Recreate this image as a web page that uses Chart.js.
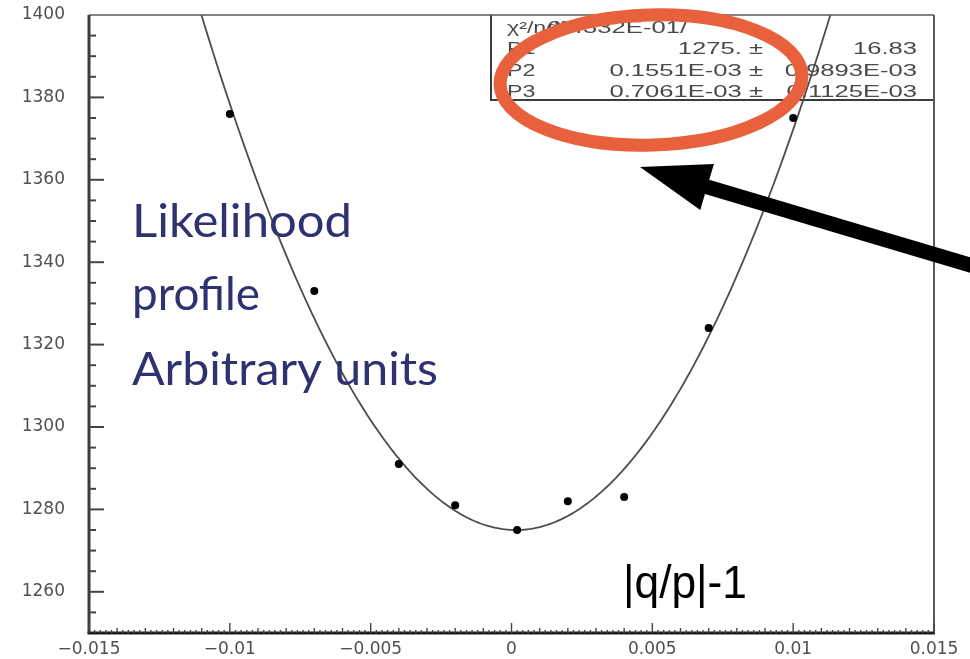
<!DOCTYPE html>
<html>
<head>
<meta charset="utf-8">
<script src="https://cdn.jsdelivr.net/npm/chart.js@4.4.1/dist/chart.umd.min.js"></script>
<style>
  html, body { margin: 0; padding: 0; background: #ffffff; }
  #wrap { width: 970px; height: 659px; }
</style>
</head>
<body>
<div id="wrap"><canvas id="c" width="970" height="659"></canvas></div>
<script>
// Scan points of the likelihood profile
const offsetX  = [-0.010, -0.007, -0.004, -0.002, 0.0002, 0.002, 0.004, 0.007, 0.010];
const profileY = [1376, 1333, 1291, 1281, 1275, 1282, 1283, 1324, 1375];

// Axis ticks
const xTickValues = [-0.015, -0.01, -0.005, 0, 0.005, 0.01, 0.015];
const xTickLabels = ['\u22120.015', '\u22120.01', '\u22120.005', '0', '0.005', '0.01', '0.015'];
const yTickValues = [1260, 1280, 1300, 1320, 1340, 1360, 1380, 1400];
const yTickLabels = ['1260', '1280', '1300', '1320', '1340', '1360', '1380', '1400'];

// Fit result box
const statNames  = ['\u03c7\u00b2/ndf', 'P1', 'P2', 'P3'];
const statValues = ['0.4332E-01/', '1275.', '0.1551E-03', '0.7061E-03'];
const statErrors = ['', '16.83', '0.9893E-03', '0.1125E-03'];

// Free text
const noteLines = ['Likelihood', 'profile', 'Arbitrary units'];
const axisTitle = '|q/p|-1';

// Fitted parabola: P1 + 0.5*((x-P2)/P3)^2, parameters from the fit box
const P1 = parseFloat(statValues[1]);
const P2 = parseFloat(statValues[2]);
const P3 = parseFloat(statValues[3]);
const fitCurve = [];
for (let i = -150; i <= 150; i++) {
  const x = i * 0.0001;
  fitCurve.push({ x: x, y: P1 + 0.5 * Math.pow((x - P2) / P3, 2) });
}
const scanPoints = offsetX.map((x, i) => ({ x: x, y: profileY[i] }));

function stretchedText(ctx, text, x, y, sx, align) {
  ctx.save();
  ctx.translate(x, y);
  ctx.scale(sx, 1);
  ctx.textAlign = align;
  ctx.fillText(text, 0, 0);
  ctx.restore();
}
function fittedText(ctx, text, left, baseline, width) {
  const w = ctx.measureText(text).width;
  ctx.save();
  ctx.translate(left, baseline);
  ctx.scale(width / w, 1);
  ctx.textAlign = 'left';
  ctx.fillText(text, 0, 0);
  ctx.restore();
}

// Fit box, drawn under the curve
const statsBox = {
  id: 'statsBox',
  beforeDatasetsDraw(chart) {
    const ctx = chart.ctx;
    const a = chart.chartArea;
    const bx = 491, by = a.top, bw = a.right - 491, bh = 85;
    ctx.save();
    ctx.fillStyle = '#ffffff';
    ctx.fillRect(bx, by, bw, bh);
    ctx.strokeStyle = '#3c3c3c';
    ctx.lineWidth = 2;
    ctx.beginPath();
    ctx.moveTo(bx, by); ctx.lineTo(bx, by + bh); ctx.lineTo(a.right, by + bh);
    ctx.stroke();
    ctx.fillStyle = '#4a4a4a';
    ctx.font = '16px "Liberation Sans", Arial, sans-serif';
    ctx.textBaseline = 'alphabetic';
    const rows = [33, 54, 76, 97];
    for (let i = 0; i < statNames.length; i++) {
      stretchedText(ctx, statNames[i], 507, rows[i], 1.45, 'left');
      if (i === 0) {
        stretchedText(ctx, statValues[i], 687, rows[i], 1.6, 'right');
      } else {
        stretchedText(ctx, statValues[i] + ' \u00b1', 763, rows[i], 1.6, 'right');
        stretchedText(ctx, statErrors[i], 917, rows[i], 1.6, 'right');
      }
    }
    ctx.restore();
  }
};

// Frame, inward ticks and overlays
const overlay = {
  id: 'overlay',
  afterDraw(chart) {
    const ctx = chart.ctx;
    const a = chart.chartArea;
    const xs = chart.scales.x, ys = chart.scales.y;
    ctx.save();

    // frame
    ctx.strokeStyle = '#5a5a5a';
    ctx.lineWidth = 1.5;
    ctx.beginPath();
    ctx.moveTo(a.left, a.top); ctx.lineTo(a.right, a.top);
    ctx.stroke();
    ctx.lineWidth = 2;
    ctx.beginPath();
    ctx.moveTo(a.right, a.top); ctx.lineTo(a.right, a.bottom);
    ctx.stroke();
    ctx.strokeStyle = '#3a3a3a';
    ctx.lineWidth = 3;
    ctx.beginPath();
    ctx.moveTo(a.left, a.top); ctx.lineTo(a.left, a.bottom);
    ctx.stroke();
    ctx.strokeStyle = '#1e1e1e';
    ctx.beginPath();
    ctx.moveTo(a.left - 1.5, a.bottom); ctx.lineTo(a.right + 1, a.bottom);
    ctx.stroke();

    // y ticks every 5, long ones every 20
    ctx.strokeStyle = '#444444';
    ctx.lineWidth = 2;
    for (let v = 1255; v < 1400; v += 5) {
      const py = ys.getPixelForValue(v);
      const len = (v % 20 === 0) ? 15 : 7;
      ctx.beginPath();
      ctx.moveTo(a.left, py); ctx.lineTo(a.left + len, py);
      ctx.stroke();
    }
    // x ticks: 0.005 major, 0.001 secondary, 0.0002 tertiary
    ctx.lineWidth = 1.4;
    for (let k = -75; k <= 75; k++) {
      const px = xs.getPixelForValue(k * 0.0002);
      let len = 3;
      if (k % 25 === 0) len = 10; else if (k % 5 === 0) len = 5;
      ctx.beginPath();
      ctx.moveTo(px, a.bottom); ctx.lineTo(px, a.bottom - len);
      ctx.stroke();
    }

    // handwritten note
    ctx.fillStyle = '#2f3270';
    ctx.font = '400 47px Lato, "Open Sans", sans-serif';
    fittedText(ctx, noteLines[0], 132, 237, 220);
    fittedText(ctx, noteLines[1], 132, 310, 128);
    fittedText(ctx, noteLines[2], 132, 385, 306);

    // variable name
    ctx.fillStyle = '#000000';
    ctx.font = '46px "Liberation Sans", Arial, sans-serif';
    fittedText(ctx, axisTitle, 623, 598, 124);

    // highlight ring
    ctx.strokeStyle = '#e8603c';
    ctx.lineWidth = 13;
    ctx.beginPath();
    ctx.ellipse(651, 80, 151, 65, -0.03, 0, Math.PI * 2);
    ctx.stroke();

    // pointer arrow
    const tx = 640, ty = 167;
    const dx = 330, dy = 98, L = Math.hypot(dx, dy);
    const ux = dx / L, uy = dy / L, nx = -uy, ny = ux;
    const bxp = tx + 70 * ux, byp = ty + 70 * uy;
    const ex = tx + 400 * ux, ey = ty + 400 * uy;
    ctx.fillStyle = '#000000';
    ctx.beginPath();
    ctx.moveTo(tx, ty);
    ctx.lineTo(bxp + 24 * nx, byp + 24 * ny);
    ctx.lineTo(bxp + 7.5 * nx, byp + 7.5 * ny);
    ctx.lineTo(ex + 7.5 * nx, ey + 7.5 * ny);
    ctx.lineTo(ex - 7.5 * nx, ey - 7.5 * ny);
    ctx.lineTo(bxp - 7.5 * nx, byp - 7.5 * ny);
    ctx.lineTo(bxp - 24 * nx, byp - 24 * ny);
    ctx.closePath();
    ctx.fill();

    ctx.restore();
  }
};

new Chart(document.getElementById('c'), {
  type: 'scatter',
  data: {
    datasets: [
      {
        type: 'line',
        label: 'fit',
        data: fitCurve,
        borderColor: '#4d4d4d',
        borderWidth: 1.8,
        pointRadius: 0,
        tension: 0,
        fill: false,
        order: 2
      },
      {
        label: 'scan',
        data: scanPoints,
        backgroundColor: '#000000',
        borderColor: '#000000',
        borderWidth: 0,
        pointRadius: 4,
        order: 1
      }
    ]
  },
  options: {
    responsive: false,
    animation: false,
    devicePixelRatio: 1,
    layout: { padding: { top: 15, right: 36, left: 0, bottom: 0 } },
    plugins: { legend: { display: false }, tooltip: { enabled: false } },
    scales: {
      x: {
        type: 'linear',
        min: -0.015,
        max: 0.015,
        afterBuildTicks: s => { s.ticks = xTickValues.map(v => ({ value: v })); },
        afterFit: s => { s.height = 26; s.paddingLeft = 0; s.paddingRight = 0; },
        grid: { display: false, drawTicks: false },
        border: { display: false },
        ticks: {
          callback: (v, i) => xTickLabels[i],
          font: { family: '"DejaVu Sans", sans-serif', size: 17 },
          color: '#505050',
          padding: 6,
          maxRotation: 0,
          autoSkip: false
        }
      },
      y: {
        type: 'linear',
        min: 1250,
        max: 1400,
        afterBuildTicks: s => { s.ticks = yTickValues.map(v => ({ value: v })); },
        afterFit: s => { s.width = 89; s.paddingTop = 0; s.paddingBottom = 0; },
        grid: { display: false, drawTicks: false },
        border: { display: false },
        ticks: {
          callback: (v, i) => yTickLabels[i],
          font: { family: '"DejaVu Sans", sans-serif', size: 17 },
          color: '#505050',
          padding: 24,
          autoSkip: false
        }
      }
    }
  },
  plugins: [statsBox, overlay]
});
</script>
</body>
</html>
